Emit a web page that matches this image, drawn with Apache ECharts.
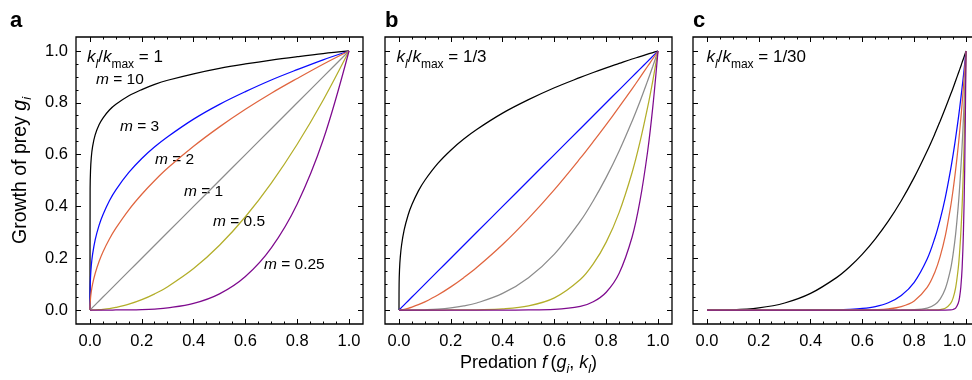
<!DOCTYPE html>
<html><head><meta charset="utf-8">
<script src="https://cdn.jsdelivr.net/npm/echarts@6/dist/echarts.min.js"></script>
<style>html,body{margin:0;padding:0;background:#fff}#c{width:972px;height:380px}</style>
</head><body><div id="c"></div>
<script>
// ---------------- DATA ----------------
const mValues = ['10', '3', '2', '1', '0.5', '0.25'];
const ratioLabels = ['1', '1/3', '1/30'];
const panelLetters = ['a', 'b', 'c'];
const majorTicks = [0, 0.2, 0.4, 0.6, 0.8, 1.0];
const minorTicks = [0.05, 0.1, 0.15, 0.25, 0.3, 0.35, 0.45, 0.5, 0.55, 0.65, 0.7, 0.75, 0.85, 0.9, 0.95];

// Panel a: kl/kmax = 1
const aX     = [0, 0.0005, 0.002, 0.005, 0.01, 0.02, 0.035, 0.05, 0.075, 0.1, 0.15, 0.2, 0.25, 0.3, 0.4, 0.5, 0.6, 0.7, 0.8, 0.9, 1];
const aM10   = [0, 0.468, 0.537, 0.589, 0.631, 0.676, 0.715, 0.741, 0.772, 0.794, 0.827, 0.851, 0.871, 0.887, 0.912, 0.933, 0.950, 0.965, 0.978, 0.990, 1];
const aM3    = [0, 0.079, 0.126, 0.171, 0.215, 0.271, 0.327, 0.368, 0.422, 0.464, 0.531, 0.585, 0.630, 0.669, 0.737, 0.794, 0.843, 0.888, 0.928, 0.966, 1];
const aM2    = [0, 0.022, 0.045, 0.071, 0.100, 0.141, 0.187, 0.224, 0.274, 0.316, 0.387, 0.447, 0.500, 0.548, 0.632, 0.707, 0.775, 0.837, 0.894, 0.949, 1];
const aM1    = [0, 0.0005, 0.002, 0.005, 0.01, 0.02, 0.035, 0.05, 0.075, 0.1, 0.15, 0.2, 0.25, 0.3, 0.4, 0.5, 0.6, 0.7, 0.8, 0.9, 1];
const aM05   = [0, 0, 0, 0, 0.0001, 0.0004, 0.0012, 0.0025, 0.0056, 0.01, 0.0225, 0.04, 0.0625, 0.09, 0.16, 0.25, 0.36, 0.49, 0.64, 0.81, 1];
const aM025  = [0, 0, 0, 0, 0, 0, 0, 0, 0, 0.0001, 0.0005, 0.0016, 0.0039, 0.0081, 0.0256, 0.0625, 0.1296, 0.2401, 0.4096, 0.6561, 1];

// Panel b: kl/kmax = 1/3
const bX     = [0, 0.0005, 0.002, 0.005, 0.01, 0.02, 0.035, 0.05, 0.075, 0.1, 0.15, 0.2, 0.25, 0.3, 0.4, 0.5, 0.6, 0.7, 0.75, 0.8, 0.85, 0.9, 0.93, 0.96, 0.98, 1];
const bM10   = [0, 0.102, 0.155, 0.204, 0.251, 0.309, 0.366, 0.407, 0.460, 0.501, 0.566, 0.617, 0.660, 0.697, 0.760, 0.812, 0.858, 0.898, 0.917, 0.935, 0.952, 0.969, 0.978, 0.988, 0.994, 1];
const bM3    = [0, 0.0005, 0.002, 0.005, 0.01, 0.02, 0.035, 0.05, 0.075, 0.1, 0.15, 0.2, 0.25, 0.3, 0.4, 0.5, 0.6, 0.7, 0.75, 0.8, 0.85, 0.9, 0.93, 0.96, 0.98, 1];
const bM2    = [0, 0, 0.0001, 0.0004, 0.001, 0.0028, 0.0065, 0.0112, 0.0205, 0.0316, 0.0581, 0.0894, 0.125, 0.164, 0.253, 0.354, 0.465, 0.586, 0.650, 0.716, 0.784, 0.854, 0.897, 0.941, 0.970, 1];
const bM1    = [0, 0, 0, 0, 0, 0, 0, 0.0001, 0.0004, 0.001, 0.0034, 0.008, 0.0156, 0.027, 0.064, 0.125, 0.216, 0.343, 0.422, 0.512, 0.614, 0.729, 0.804, 0.885, 0.941, 1];
const bM05   = [0, 0, 0, 0, 0, 0, 0, 0, 0, 0, 0, 0.0001, 0.0002, 0.0007, 0.0041, 0.0156, 0.0467, 0.1176, 0.178, 0.262, 0.377, 0.531, 0.647, 0.783, 0.886, 1];
const bM025  = [0, 0, 0, 0, 0, 0, 0, 0, 0, 0, 0, 0, 0, 0, 0, 0.0002, 0.0022, 0.0138, 0.0317, 0.0687, 0.142, 0.282, 0.419, 0.613, 0.785, 1];

// Panel c: kl/kmax = 1/30
const cX     = [0, 0.1, 0.2, 0.3, 0.4, 0.5, 0.55, 0.6, 0.65, 0.7, 0.75, 0.8, 0.85, 0.88, 0.9, 0.92, 0.94, 0.95, 0.96, 0.97, 0.975, 0.98, 0.985, 0.99, 0.995, 1];
const cM10   = [0, 0.001, 0.008, 0.027, 0.064, 0.125, 0.166, 0.216, 0.275, 0.343, 0.422, 0.512, 0.614, 0.681, 0.729, 0.779, 0.831, 0.857, 0.885, 0.913, 0.927, 0.941, 0.956, 0.970, 0.985, 1];
const cM3    = [0, 0, 0, 0, 0.0001, 0.001, 0.0025, 0.006, 0.0134, 0.0282, 0.0563, 0.107, 0.197, 0.279, 0.349, 0.434, 0.539, 0.599, 0.665, 0.737, 0.776, 0.817, 0.860, 0.904, 0.951, 1];
const cM2    = [0, 0, 0, 0, 0, 0, 0.0001, 0.0005, 0.0016, 0.0047, 0.0133, 0.0352, 0.0874, 0.147, 0.206, 0.286, 0.395, 0.463, 0.542, 0.633, 0.684, 0.739, 0.797, 0.860, 0.928, 1];
const cM1    = [0, 0, 0, 0, 0, 0, 0, 0, 0, 0, 0.0002, 0.0012, 0.0076, 0.0216, 0.0424, 0.0818, 0.156, 0.215, 0.294, 0.401, 0.468, 0.546, 0.635, 0.740, 0.861, 1];
const cM05   = [0, 0, 0, 0, 0, 0, 0, 0, 0, 0, 0, 0, 0.0001, 0.0005, 0.0018, 0.0067, 0.0243, 0.0461, 0.0864, 0.161, 0.219, 0.298, 0.403, 0.548, 0.741, 1];
const cM025  = [0, 0, 0, 0, 0, 0, 0, 0, 0, 0, 0, 0, 0, 0, 0, 0, 0.0006, 0.0021, 0.0075, 0.0259, 0.048, 0.0888, 0.162, 0.300, 0.549, 1];

// ---------------- STYLE / LAYOUT ----------------
const FONT = '"Liberation Sans", Arial, Helvetica, sans-serif';
const curveColors = ['#000000', '#0a0aff', '#e0653f', '#8c8c8c', '#b3ae2a', '#7e0a8e'];
const panels = [
  {x: aX, ys: [aM10, aM3, aM2, aM1, aM05, aM025]},
  {x: bX, ys: [bM10, bM3, bM2, bM1, bM05, bM025]},
  {x: cX, ys: [cM10, cM3, cM2, cM1, cM05, cM025]}
];
const gridBoxes = [
  {left: 76, top: 37, width: 287, height: 287},
  {left: 385, top: 37, width: 287, height: 287},
  {left: 693, top: 37, width: 287, height: 287}
];
const AMIN = -0.054, AMAX = 1.054;

function rich(main, sub, pad) {
  return {
    n: {fontSize: main, lineHeight: main, fontFamily: FONT, fill: '#000'},
    i: {fontSize: main, lineHeight: main, fontFamily: FONT, fontStyle: 'italic', fill: '#000'},
    s: {fontSize: sub, lineHeight: sub, fontFamily: FONT, padding: [pad, 0, 0, 0], fill: '#000'},
    si: {fontSize: sub, lineHeight: sub, fontFamily: FONT, fontStyle: 'italic', padding: [pad, 0, 0, 0], fill: '#000'}
  };
}

const grids = [], xAxes = [], yAxes = [], series = [];
panels.forEach((p, g) => {
  grids.push(Object.assign({show: true, borderColor: '#000', borderWidth: 1.3, backgroundColor: 'transparent',
    containLabel: false, outerBoundsMode: 'none'}, gridBoxes[g]));
  const base = {gridIndex: g, type: 'value', min: AMIN, max: AMAX, axisLine: {show: false, onZero: false}, splitLine: {show: false}};
  const tickSet = (vals, len) => ({show: true, inside: true, length: len, customValues: vals, lineStyle: {color: '#000', width: 1}});
  const lbl = {show: true, customValues: majorTicks, formatter: v => Number(v).toFixed(1), fontSize: 16.5, fontFamily: FONT, color: '#000', margin: 9};
  const xlbl = g === 2 ? Object.assign({}, lbl, {alignMaxLabel: 'right'}) : lbl;
  xAxes.push(Object.assign({}, base, {position: 'bottom', axisTick: tickSet(majorTicks, 5), axisLabel: xlbl}));
  xAxes.push(Object.assign({}, base, {position: 'bottom', axisTick: tickSet(minorTicks, 2.5), axisLabel: {show: false}}));
  xAxes.push(Object.assign({}, base, {position: 'top', axisTick: tickSet(majorTicks, 5), axisLabel: {show: false}}));
  xAxes.push(Object.assign({}, base, {position: 'top', axisTick: tickSet(minorTicks, 2.5), axisLabel: {show: false}}));
  const ylbl = g === 0 ? Object.assign({}, lbl, {margin: 8}) : {show: false};
  yAxes.push(Object.assign({}, base, {position: 'left', axisTick: tickSet(majorTicks, 5), axisLabel: ylbl}));
  yAxes.push(Object.assign({}, base, {position: 'left', axisTick: tickSet(minorTicks, 2.5), axisLabel: {show: false}}));
  yAxes.push(Object.assign({}, base, {position: 'right', axisTick: tickSet(majorTicks, 5), axisLabel: {show: false}}));
  yAxes.push(Object.assign({}, base, {position: 'right', axisTick: tickSet(minorTicks, 2.5), axisLabel: {show: false}}));
  p.ys.forEach((ys, j) => {
    series.push({
      type: 'line', name: 'm=' + mValues[j], xAxisIndex: g * 4, yAxisIndex: g * 4,
      data: p.x.map((xv, i) => [xv, ys[i]]),
      showSymbol: false, symbol: 'none', smooth: 0.35,
      lineStyle: {color: curveColors[j], width: 1.25}, silent: true, animation: false, z: 2 + j
    });
  });
});

// text annotations
const graphic = [];
const letterX = [10, 385, 693];
panelLetters.forEach((t, g) => graphic.push({type: 'text', x: letterX[g], y: 20.5,
  style: {text: t, fontSize: 22, fontWeight: 'bold', fontFamily: FONT, fill: '#000', align: 'left', verticalAlign: 'middle'}}));
const ratioX = [87, 396.5, 706.5];
ratioLabels.forEach((r, g) => graphic.push({type: 'text', x: ratioX[g], y: 48.7,
  style: {text: '{i|k}{si|l}{n|/}{i|k}{s|max}{n| = ' + r + '}', rich: rich(17, 12, 14), align: 'left', verticalAlign: 'top', fill: '#000'}}));
const mLabelPos = [[96, 80], [120, 126.5], [155, 160], [184, 191.5], [213, 221.5], [264, 265]];
mValues.forEach((m, j) => graphic.push({type: 'text', x: mLabelPos[j][0], y: mLabelPos[j][1],
  style: {text: '{i|m}{n| = ' + m + '}', rich: rich(15.5, 11, 0), align: 'left', verticalAlign: 'middle', fill: '#000'}}));
graphic.push({type: 'text', x: 528.5, y: 354,
  style: {text: '{n|Predation }{i|f\u2009}{n|(}{i|g}{si|i}{n|, }{i|k}{si|l}{n|)}', rich: rich(18, 12.5, 14), align: 'center', verticalAlign: 'top', fill: '#000'}});
graphic.push({type: 'text', x: 20.5, y: 170.5, rotation: Math.PI / 2,
  style: {text: '{n|Growth of prey }{i|g}{si|i}', rich: rich(19.5, 13, 14), align: 'center', verticalAlign: 'middle', fill: '#000'}});

const chart = echarts.init(document.getElementById('c'), null, {renderer: 'canvas'});
chart.setOption({
  animation: false,
  backgroundColor: '#fff',
  grid: grids, xAxis: xAxes, yAxis: yAxes, series: series, graphic: graphic
});
</script></body></html>
